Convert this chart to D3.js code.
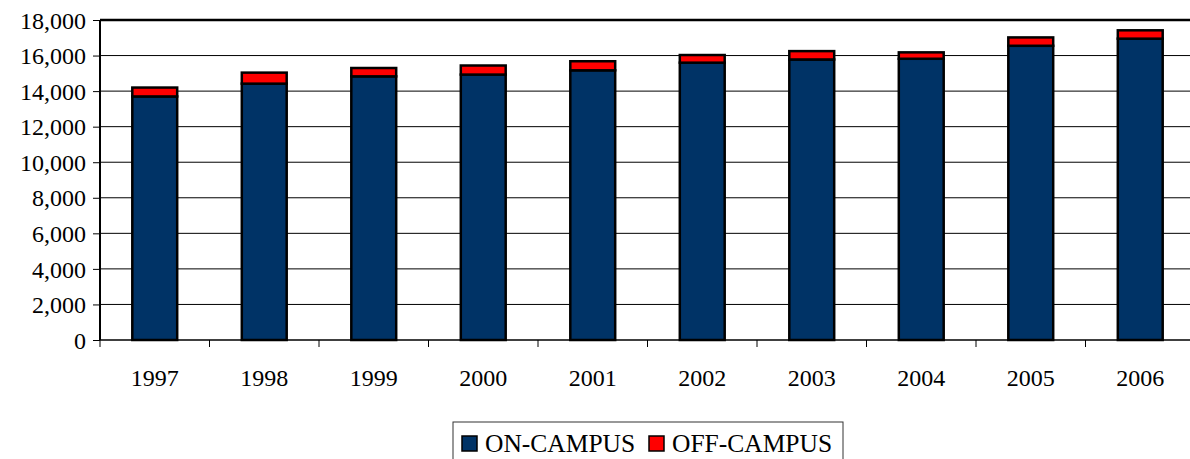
<!DOCTYPE html>
<html>
<head>
<meta charset="utf-8">
<script src="https://d3js.org/d3.v7.min.js"></script>
<style>
 body { margin: 0; background: #fff; }
 svg text { font-family: "Liberation Serif" !important; }
</style>
</head>
<body>
<svg id="chart" width="1190" height="459" font-family="Liberation Serif"></svg>
<script>
// chart data
const years = ["1997", "1998", "1999", "2000", "2001", "2002", "2003", "2004", "2005", "2006"];
const onCampus = [13700, 14420, 14830, 14930, 15170, 15600, 15780, 15820, 16550, 16950];
const offCampus = [500, 620, 470, 510, 510, 430, 470, 360, 470, 470];
const seriesNames = ["ON-CAMPUS", "OFF-CAMPUS"];
const yTicks = [0, 2000, 4000, 6000, 8000, 10000, 12000, 14000, 16000, 18000];

const width = 1190,
 height = 459,
 margin = { top: 20, bottom: 119, left: 100, right: -5 };

const colors = ["#003366", "#ff0000"];

const svg = d3.select("#chart");

const x = d3.scaleBand()
 .domain(years)
 .range([margin.left, width - margin.right])
 .paddingInner(0.59)
 .paddingOuter(0.295);

const xTicks = d3.scaleBand()
 .domain(years)
 .range([margin.left, width - margin.right]);

const y = d3.scaleLinear()
 .domain([0, 18000])
 .range([height - margin.bottom, margin.top]);

// gridlines
svg.append("g")
 .selectAll("line")
 .data(yTicks.slice(1, -1))
 .join("line")
 .attr("x1", margin.left)
 .attr("x2", width)
 .attr("y1", d => y(d))
 .attr("y2", d => y(d))
 .attr("stroke", "#000")
 .attr("stroke-width", 1);

// plot frame top
svg.append("line")
 .attr("x1", margin.left)
 .attr("x2", width)
 .attr("y1", y(18000))
 .attr("y2", y(18000))
 .attr("stroke", "#000")
 .attr("stroke-width", 2.5);

// stacked bars
const rows = years.map((yr, i) => ({ year: yr, on: onCampus[i], off: offCampus[i] }));
const stack = d3.stack().keys(["on", "off"])(rows);

svg.append("g")
 .selectAll("g")
 .data(stack)
 .join("g")
 .attr("fill", (d, i) => colors[i])
 .selectAll("rect")
 .data(d => d)
 .join("rect")
 .attr("x", d => x(d.data.year))
 .attr("width", x.bandwidth())
 .attr("y", d => y(d[1]))
 .attr("height", d => y(d[0]) - y(d[1]))
 .attr("stroke", "#000")
 .attr("stroke-width", 2.5);

// y axis
const yAxis = svg.append("g")
 .attr("transform", `translate(${margin.left},0)`)
 .call(d3.axisLeft(y).tickValues(yTicks).tickSize(7).tickPadding(7).tickFormat(d3.format(",")));
yAxis.attr("font-family", "Liberation Serif").attr("font-size", 24);
yAxis.select(".domain").attr("stroke", "#000").attr("stroke-width", 2)
 .attr("d", `M0,${y(0)}V${y(18000)}`);
yAxis.selectAll(".tick line").attr("stroke", "#000");
yAxis.selectAll("text")
 .attr("fill", "#000")
 .attr("dy", "0.34em");

// x axis
const xAxis = svg.append("g")
 .attr("transform", `translate(0,${y(0)})`)
 .call(d3.axisBottom(xTicks).tickSize(0).tickPadding(29));
xAxis.attr("font-family", "Liberation Serif").attr("font-size", 24);
xAxis.select(".domain").attr("stroke", "#000").attr("stroke-width", 1.5)
 .attr("d", `M${margin.left},0H${width}`);
xAxis.selectAll("text")
 .attr("fill", "#000");

// category separator ticks
svg.append("g")
 .selectAll("line")
 .data(years)
 .join("line")
 .attr("x1", d => xTicks(d))
 .attr("x2", d => xTicks(d))
 .attr("y1", y(0))
 .attr("y2", y(0) + 7)
 .attr("stroke", "#000");

// legend
const legend = svg.append("g").attr("transform", "translate(453,422)");
legend.append("rect")
 .attr("width", 390)
 .attr("height", 42)
 .attr("fill", "#fff")
 .attr("stroke", "#333")
 .attr("stroke-width", 1);

const items = legend.selectAll("g.item")
 .data(seriesNames)
 .join("g")
 .attr("class", "item")
 .attr("transform", (d, i) => `translate(${i === 0 ? 8 : 195},0)`);

items.append("rect")
 .attr("x", 1)
 .attr("y", 14)
 .attr("width", 15)
 .attr("height", 15)
 .attr("fill", (d, i) => colors[i])
 .attr("stroke", "#000")
 .attr("stroke-width", 1.5);

items.append("text")
 .attr("x", 24)
 .attr("y", 30)
 .attr("fill", "#000")
 .attr("font-size", 25.5)
 .text(d => d);
</script>
</body>
</html>
